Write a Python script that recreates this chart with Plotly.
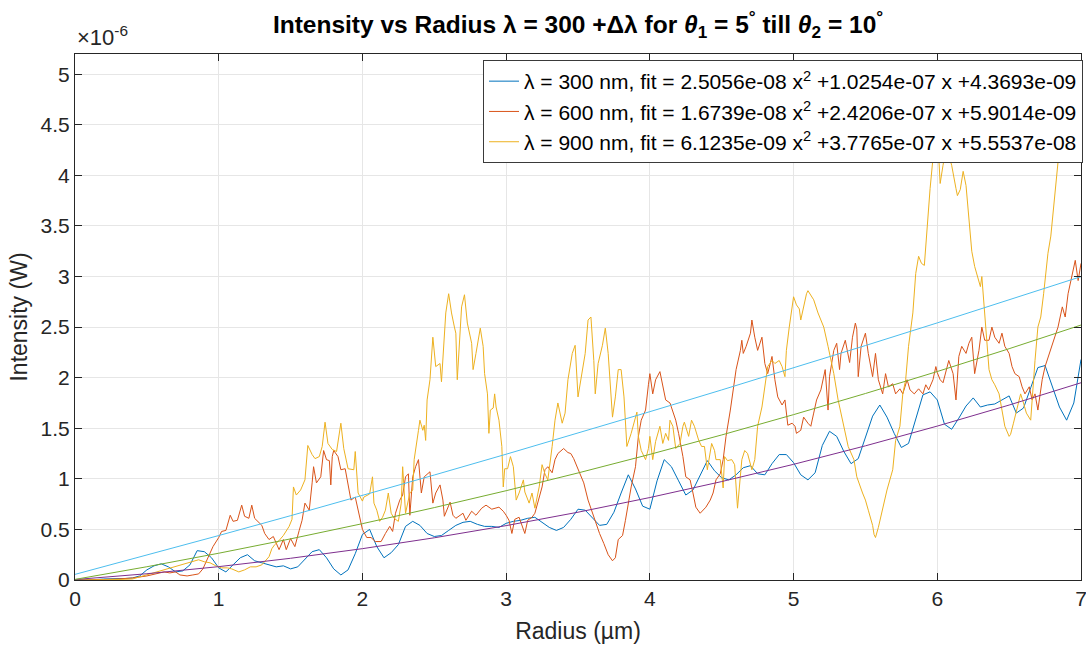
import plotly.graph_objects as go

# ---------------- data (intensity in units of 1e-6 W, radius in um) ----------------
x_300 = [round(i * 0.05, 2) for i in range(141)]
y_300 = [0.0, 0.0, 0.005, 0.005, 0.01, 0.01, 0.01, 0.015, 0.02, 0.04,
         0.10, 0.14, 0.16, 0.13, 0.08, 0.09, 0.15, 0.29, 0.28, 0.22,
         0.12, 0.08, 0.15, 0.22, 0.25, 0.19, 0.17, 0.15, 0.13, 0.14,
         0.11, 0.13, 0.21, 0.28, 0.30, 0.22, 0.11, 0.05, 0.10, 0.26,
         0.45, 0.50, 0.33, 0.22, 0.27, 0.35, 0.53, 0.58, 0.54, 0.46,
         0.43, 0.44, 0.49, 0.54, 0.57, 0.58, 0.55, 0.53, 0.53, 0.52,
         0.56, 0.58, 0.59, 0.61, 0.62, 0.57, 0.52, 0.49, 0.52, 0.60,
         0.70, 0.69, 0.62, 0.54, 0.55, 0.67, 0.86, 1.04, 0.90, 0.73,
         0.70, 0.98, 1.19, 1.12, 0.98, 0.84, 0.89, 1.03, 1.18, 1.08,
         1.01, 0.99, 1.04, 1.11, 1.13, 1.05, 1.04, 1.15, 1.24, 1.24,
         1.16, 1.04, 0.99, 1.06, 1.33, 1.47, 1.42, 1.27, 1.15, 1.20,
         1.40, 1.62, 1.73, 1.61, 1.45, 1.31, 1.35, 1.58, 1.83, 1.86,
         1.78, 1.54, 1.49, 1.60, 1.72, 1.80, 1.71, 1.73, 1.74, 1.78,
         1.82, 1.65, 1.70, 1.90, 2.10, 2.12, 1.92, 1.71, 1.58, 1.75,
         2.18]

x_600 = [0.00, 0.10, 0.20, 0.30, 0.40, 0.50, 0.57, 0.62, 0.66, 0.70, 0.73, 0.78, 0.82, 0.86, 0.89,
         0.92, 0.96, 1.00, 1.02, 1.05, 1.08, 1.10, 1.13, 1.16, 1.18, 1.21, 1.23, 1.25, 1.30, 1.32,
         1.35, 1.38, 1.42, 1.45, 1.47, 1.50, 1.53, 1.56, 1.58, 1.60, 1.63, 1.65, 1.66, 1.68, 1.71,
         1.73, 1.75, 1.77, 1.78, 1.79, 1.80, 1.83, 1.85, 1.88, 1.90, 1.92, 1.95, 1.97, 2.00, 2.03,
         2.06, 2.09, 2.13, 2.16, 2.19, 2.21, 2.23, 2.26, 2.28, 2.30, 2.32, 2.33, 2.35, 2.37, 2.39,
         2.41, 2.43, 2.47, 2.49, 2.51, 2.54, 2.56, 2.57, 2.61, 2.63, 2.65, 2.70, 2.72, 2.76, 2.79,
         2.83, 2.86, 2.90, 2.95, 2.98, 3.00, 3.02, 3.04, 3.06, 3.09, 3.13, 3.15, 3.18, 3.20, 3.23,
         3.25, 3.27, 3.29, 3.32, 3.34, 3.36, 3.40, 3.43, 3.45, 3.47, 3.50, 3.54, 3.57, 3.61, 3.63,
         3.65, 3.68, 3.71, 3.74, 3.76, 3.78, 3.81, 3.83, 3.85, 3.87, 3.90, 3.92, 3.94, 3.97, 3.99,
         4.00, 4.02, 4.04, 4.07, 4.09, 4.11, 4.14, 4.18, 4.20, 4.23, 4.25, 4.28, 4.30, 4.32, 4.35,
         4.37, 4.39, 4.42, 4.44, 4.46, 4.49, 4.51, 4.53, 4.56, 4.58, 4.60, 4.63, 4.64, 4.65, 4.67,
         4.70, 4.71, 4.73, 4.75, 4.78, 4.80, 4.82, 4.85, 4.87, 4.89, 4.92, 4.94, 4.96, 4.99, 5.01,
         5.02, 5.05, 5.07, 5.10, 5.12, 5.14, 5.16, 5.19, 5.21, 5.22, 5.24, 5.25, 5.28, 5.30, 5.32,
         5.33, 5.36, 5.38, 5.39, 5.41, 5.43, 5.44, 5.45, 5.47, 5.50, 5.52, 5.55, 5.57, 5.59, 5.62,
         5.64, 5.66, 5.69, 5.71, 5.74, 5.76, 5.79, 5.81, 5.84, 5.87, 5.90, 5.92, 5.94, 5.97, 5.99,
         6.00, 6.02, 6.04, 6.08, 6.11, 6.13, 6.15, 6.17, 6.20, 6.22, 6.24, 6.26, 6.29, 6.31, 6.33,
         6.36, 6.38, 6.40, 6.43, 6.45, 6.47, 6.50, 6.52, 6.54, 6.57, 6.59, 6.61, 6.64, 6.66, 6.68,
         6.70, 6.73, 6.75, 6.78, 6.80, 6.84, 6.87, 6.89, 6.91, 6.94, 6.96, 6.98, 7.00]
y_600 = [0.0, 0.0, 0.005, 0.01, 0.02, 0.04, 0.06, 0.08, 0.07, 0.08, 0.05, 0.04, 0.05, 0.06, 0.11,
         0.21, 0.33, 0.42, 0.48, 0.49, 0.64, 0.58, 0.59, 0.74, 0.63, 0.61, 0.74, 0.61, 0.54, 0.46,
         0.40, 0.43, 0.30, 0.40, 0.30, 0.41, 0.33, 0.49, 0.59, 0.76, 0.69, 0.96, 1.12, 0.96, 1.02,
         1.28, 1.19, 1.18, 0.94, 1.22, 1.28, 1.22, 1.09, 1.10, 0.94, 0.79, 0.82, 0.69, 0.50, 0.42,
         0.42, 0.38, 0.38, 0.46, 0.53, 0.48, 0.66, 0.79, 0.84, 1.02, 1.05, 0.64, 1.02, 1.12, 1.19,
         0.86, 1.02, 1.07, 0.76, 0.86, 0.94, 0.79, 0.63, 0.77, 0.64, 0.61, 0.66, 0.59, 0.68, 0.64,
         0.71, 0.74, 0.70, 0.72, 0.68, 0.64, 0.59, 0.46, 0.60, 0.62, 0.46, 0.59, 0.62, 0.66, 0.82,
         0.92, 1.09, 1.12, 1.06, 1.19, 1.25, 1.30, 1.26, 1.25, 1.20, 1.09, 0.96, 0.79, 0.63, 0.53,
         0.46, 0.36, 0.25, 0.19, 0.22, 0.40, 0.44, 0.59, 0.76, 0.92, 1.12, 1.42, 1.58, 1.68, 1.93,
         2.04, 1.84, 1.98, 2.06, 1.91, 1.78, 1.75, 1.58, 1.45, 1.22, 1.02, 0.99, 0.86, 0.72, 0.66,
         0.69, 0.72, 0.79, 0.86, 0.99, 1.05, 1.19, 1.42, 1.68, 1.88, 2.08, 2.27, 2.37, 2.24, 2.31,
         2.44, 2.57, 2.40, 2.27, 2.40, 2.14, 2.04, 2.21, 1.98, 1.81, 1.73, 1.78, 1.53, 1.55, 1.52,
         1.45, 1.48, 1.61, 1.55, 1.52, 1.65, 1.78, 1.88, 2.04, 2.08, 1.68, 2.01, 2.27, 2.34, 2.08,
         2.24, 2.37, 2.24, 2.15, 2.40, 2.54, 2.48, 2.01, 2.31, 2.44, 2.24, 2.01, 2.24, 1.98, 1.84,
         2.04, 1.91, 1.94, 1.84, 1.89, 1.84, 1.98, 1.88, 1.84, 1.89, 1.84, 1.93, 1.88, 1.98, 2.11,
         2.05, 1.98, 1.95, 2.17, 2.04, 1.78, 2.21, 2.31, 2.24, 2.34, 2.40, 2.04, 2.27, 2.50, 2.37,
         2.37, 2.50, 2.40, 2.34, 2.44, 2.31, 2.24, 2.11, 2.04, 2.01, 1.91, 1.84, 1.91, 1.78, 1.84,
         1.68, 1.98, 2.11, 2.24, 2.34, 2.50, 2.70, 2.60, 2.83, 3.03, 3.16, 2.96, 3.13]

x_900 = [0.00, 0.10, 0.20, 0.30, 0.40, 0.45, 0.50, 0.55, 0.60, 0.66, 0.70, 0.75, 0.79, 0.82, 0.86,
         0.90, 0.94, 0.98, 1.02, 1.06, 1.09, 1.14, 1.18, 1.22, 1.26, 1.30, 1.35, 1.37, 1.39, 1.42,
         1.45, 1.49, 1.51, 1.52, 1.54, 1.57, 1.60, 1.62, 1.65, 1.67, 1.70, 1.72, 1.74, 1.76, 1.79,
         1.82, 1.85, 1.87, 1.90, 1.94, 1.95, 1.97, 2.00, 2.01, 2.05, 2.07, 2.08, 2.10, 2.12, 2.14,
         2.16, 2.18, 2.20, 2.22, 2.25, 2.27, 2.28, 2.30, 2.33, 2.35, 2.36, 2.39, 2.40, 2.42, 2.43,
         2.44, 2.45, 2.47, 2.49, 2.51, 2.54, 2.55, 2.57, 2.58, 2.60, 2.62, 2.64, 2.65, 2.66, 2.68,
         2.69, 2.71, 2.73, 2.76, 2.77, 2.79, 2.80, 2.82, 2.84, 2.85, 2.87, 2.88, 2.89, 2.91, 2.92,
         2.93, 2.95, 2.97, 2.98, 2.99, 3.01, 3.03, 3.05, 3.07, 3.09, 3.12, 3.13, 3.16, 3.18, 3.20,
         3.23, 3.25, 3.27, 3.29, 3.32, 3.34, 3.36, 3.39, 3.41, 3.43, 3.46, 3.48, 3.50, 3.52, 3.55,
         3.57, 3.59, 3.61, 3.62, 3.64, 3.67, 3.69, 3.71, 3.74, 3.76, 3.78, 3.80, 3.82, 3.84, 3.87,
         3.89, 3.91, 3.92, 3.94, 3.97, 3.99, 4.00, 4.02, 4.04, 4.07, 4.09, 4.11, 4.13, 4.14, 4.16,
         4.18, 4.21, 4.23, 4.24, 4.27, 4.29, 4.31, 4.34, 4.36, 4.38, 4.39, 4.40, 4.43, 4.45, 4.46,
         4.49, 4.51, 4.52, 4.54, 4.57, 4.59, 4.61, 4.64, 4.66, 4.68, 4.71, 4.73, 4.75, 4.78, 4.80,
         4.82, 4.85, 4.87, 4.90, 4.92, 4.94, 4.95, 4.97, 5.00, 5.02, 5.04, 5.05, 5.07, 5.09, 5.10,
         5.14, 5.17, 5.21, 5.24, 5.28, 5.31, 5.35, 5.38, 5.42, 5.44, 5.48, 5.50, 5.52, 5.55, 5.56,
         5.57, 5.59, 5.62, 5.65, 5.69, 5.71, 5.74, 5.76, 5.78, 5.80, 5.83, 5.85, 5.87, 5.89, 5.91,
         5.93, 5.95, 5.97, 5.99, 6.00, 6.02, 6.04, 6.05, 6.08, 6.10, 6.13, 6.14, 6.16, 6.18, 6.20,
         6.22, 6.24, 6.26, 6.29, 6.30, 6.31, 6.32, 6.33, 6.35, 6.36, 6.38, 6.40, 6.43, 6.45, 6.47,
         6.50, 6.51, 6.53, 6.54, 6.56, 6.58, 6.60, 6.62, 6.65, 6.66, 6.68, 6.70, 6.72, 6.74, 6.76,
         6.77, 6.79, 6.81, 6.83, 6.84, 6.87, 6.90, 6.93, 6.96, 6.98, 7.00]
y_900 = [0.0, 0.0, 0.0, 0.005, 0.01, 0.03, 0.05, 0.07, 0.09, 0.12, 0.13, 0.15, 0.17, 0.18, 0.20,
         0.18, 0.17, 0.14, 0.12, 0.12, 0.11, 0.08, 0.10, 0.13, 0.13, 0.15, 0.23, 0.31, 0.35, 0.39,
         0.44, 0.53, 0.60, 0.92, 0.84, 0.89, 0.99, 1.33, 1.24, 1.20, 1.22, 1.32, 1.56, 1.35, 1.29,
         1.27, 1.55, 1.30, 1.10, 1.09, 1.27, 0.86, 0.78, 0.82, 0.85, 1.02, 0.76, 0.69, 0.58, 0.62,
         0.69, 0.86, 0.66, 0.61, 0.58, 0.76, 1.12, 0.66, 0.86, 0.89, 1.19, 1.48, 1.58, 1.48, 1.53,
         1.38, 1.78, 1.98, 2.40, 2.11, 2.14, 1.96, 2.40, 2.64, 2.83, 2.64, 2.50, 2.44, 1.98, 2.54,
         2.70, 2.82, 2.54, 2.34, 2.08, 2.24, 2.34, 2.49, 2.31, 2.04, 1.84, 1.45, 1.68, 1.70, 1.84,
         1.71, 1.58, 1.32, 0.92, 1.10, 1.10, 1.22, 1.12, 0.79, 0.86, 0.99, 0.87, 0.76, 0.86, 0.71,
         0.92, 1.14, 1.05, 0.99, 1.32, 1.58, 1.75, 1.55, 1.65, 1.98, 2.24, 2.32, 1.81, 1.98, 2.24,
         2.57, 2.60, 2.17, 1.84, 2.14, 2.32, 2.49, 2.24, 1.61, 1.81, 2.08, 2.08, 1.81, 1.32, 1.45,
         1.56, 1.66, 1.42, 1.28, 1.19, 1.30, 1.42, 1.19, 1.37, 1.52, 1.35, 1.45, 1.38, 1.58, 1.52,
         1.30, 1.35, 1.52, 1.56, 1.42, 1.58, 1.52, 1.38, 1.32, 1.32, 1.22, 1.09, 1.35, 1.28, 1.19,
         1.19, 0.91, 1.22, 1.18, 1.19, 1.14, 0.71, 1.19, 1.28, 1.25, 1.09, 1.19, 1.52, 1.71, 1.91,
         2.11, 2.17, 2.14, 2.17, 2.11, 2.01, 2.27, 2.50, 2.80, 2.72, 2.68, 2.57, 2.70, 2.83, 2.86,
         2.77, 2.64, 2.50, 2.31, 2.04, 1.78, 1.52, 1.32, 1.19, 1.02, 0.86, 0.79, 0.69, 0.54, 0.45,
         0.42, 0.52, 0.72, 0.89, 1.09, 1.38, 1.52, 1.84, 1.98, 2.31, 2.64, 3.03, 3.20, 3.13, 3.11,
         3.54, 3.87, 4.17, 4.45, 4.45, 3.92, 4.10, 4.18, 4.20, 4.10, 3.87, 3.80, 3.86, 4.04, 3.90,
         3.54, 3.25, 3.10, 2.93, 2.90, 3.00, 2.83, 2.57, 2.31, 2.08, 1.98, 1.93, 1.84, 1.68, 1.52,
         1.42, 1.44, 1.55, 1.61, 1.71, 1.84, 1.75, 1.65, 1.58, 1.81, 2.17, 2.50, 2.60, 2.83, 3.10,
         3.23, 3.40, 3.70, 3.95, 4.13, 4.45, 4.70, 4.90, 5.05, 4.85, 5.10]

# quadratic fit curves, values read at 0.5 um steps
x_fit = [0.0, 0.5, 1.0, 1.5, 2.0, 2.5, 3.0, 3.5, 4.0, 4.5, 5.0, 5.5, 6.0, 6.5, 7.0]
fit_300 = [0.0044, 0.0619, 0.1320, 0.2146, 0.3097, 0.4173, 0.5375, 0.6702, 0.8154, 0.9732,
           1.1435, 1.3263, 1.5216, 1.7295, 1.9499]
fit_600 = [0.0059, 0.1311, 0.2647, 0.4067, 0.5570, 0.7157, 0.8827, 1.0582, 1.2420, 1.4341,
           1.6347, 1.8436, 2.0609, 2.2865, 2.5205]
fit_900 = [0.0555, 0.2459, 0.4393, 0.6358, 0.8353, 1.0379, 1.2436, 1.4523, 1.6641, 1.8790,
           2.0969, 2.3178, 2.5419, 2.7689, 2.9991]

names = ["λ = 300 nm, fit = 2.5056e-08 x<sup>2</sup> +1.0254e-07 x +4.3693e-09",
         "λ = 600 nm, fit = 1.6739e-08 x<sup>2</sup> +2.4206e-07 x +5.9014e-09",
         "λ = 900 nm, fit = 6.1235e-09 x<sup>2</sup> +3.7765e-07 x +5.5537e-08"]

y_ticks = [0, 0.5, 1, 1.5, 2, 2.5, 3, 3.5, 4, 4.5, 5]
x_ticks = [0, 1, 2, 3, 4, 5, 6, 7]

# ---------------- figure ----------------
FONT = "Liberation Sans, Arial, sans-serif"
AX = "#262626"

fig = go.Figure()
data_colors = ["#0072BD", "#D95319", "#EDB120"]
fit_colors = ["#7E2F8E", "#77AC30", "#4DBEEE"]

for xs, ys, nm, c in zip([x_300, x_600, x_900], [y_300, y_600, y_900], names, data_colors):
    fig.add_trace(go.Scatter(x=xs, y=ys, mode="lines", name=nm,
                             line=dict(color=c, width=1)))
for ys, c in zip([fit_300, fit_600, fit_900], fit_colors):
    fig.add_trace(go.Scatter(x=x_fit, y=ys, mode="lines", showlegend=False,
                             line=dict(color=c, width=1)))

fig.update_layout(
    width=1086, height=649,
    margin=dict(l=75, r=5, t=54, b=69, autoexpand=False),
    paper_bgcolor="white", plot_bgcolor="white",
    font=dict(family=FONT, size=21, color=AX),
    title=dict(
        text="<b>Intensity vs Radius λ = 300 +Δλ for <i>θ</i><sub>1</sub> = 5<sup>°</sup> till <i>θ</i><sub>2</sub> = 10<sup>°</sup></b>",
        x=0.5, xref="paper", xanchor="center", y=0.962, yanchor="middle",
        font=dict(family=FONT, size=24.5, color="#000000")),
    legend=dict(x=1.002, y=0.9886, xanchor="right", yanchor="top",
                bgcolor="white", bordercolor="#3a3a3a", borderwidth=1,
                font=dict(family=FONT, size=21, color="#000000"),
                itemwidth=30, tracegroupgap=0),
    showlegend=True,
)
fig.update_xaxes(range=[0, 7], tickvals=x_ticks, ticks="inside", ticklen=7,
                 tickcolor=AX, showline=True, linecolor=AX, linewidth=1, mirror="ticks",
                 showgrid=True, gridcolor="#e6e6e6", gridwidth=1, zeroline=False,
                 ticklabeloverflow="allow",
                 title=dict(text="Radius (µm)", font=dict(size=23, color=AX), standoff=13),
                 tickfont=dict(size=21, color=AX))
fig.update_yaxes(range=[0, 5.2], tickvals=y_ticks, ticks="inside", ticklen=7,
                 tickcolor=AX, showline=True, linecolor=AX, linewidth=1, mirror="ticks",
                 showgrid=True, gridcolor="#e6e6e6", gridwidth=1, zeroline=False,
                 ticklabeloverflow="allow",
                 title=dict(text="Intensity (W)", font=dict(size=23, color=AX), standoff=6),
                 tickfont=dict(size=21, color=AX))

fig.add_annotation(text="×10<sup>-6</sup>", xref="paper", yref="paper", x=0, y=1.0,
                   xanchor="left", yanchor="bottom", showarrow=False, yshift=2,
                   font=dict(family=FONT, size=22, color=AX))

fig.write_html("out.html")
